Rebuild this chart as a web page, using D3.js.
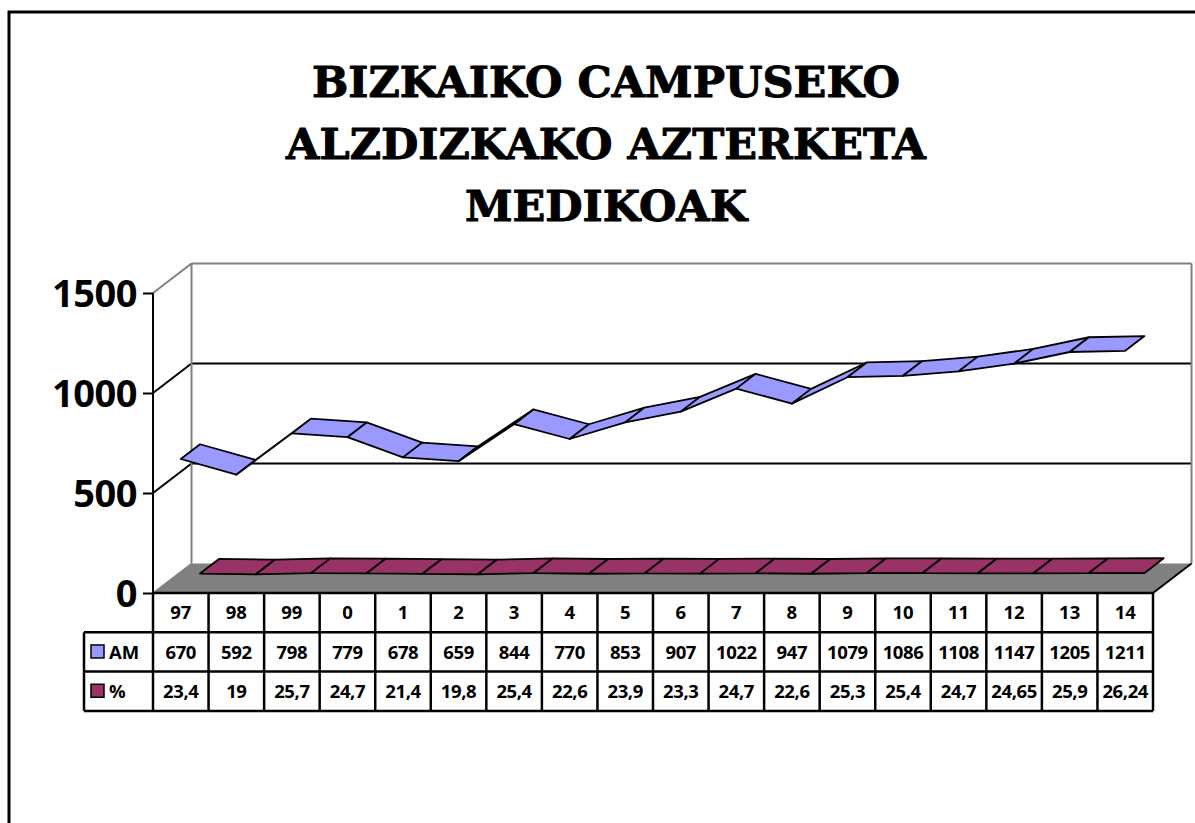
<!DOCTYPE html>
<html>
<head>
<meta charset="utf-8">
<script src="https://cdn.jsdelivr.net/npm/d3@7"></script>
<style>
  html, body { margin: 0; padding: 0; background: #fff; }
  svg { display: block; }
</style>
</head>
<body>
<svg id="chart" width="1195" height="823"></svg>
<script>
// ---- data ----
const titleLines = ["BIZKAIKO CAMPUSEKO", "ALZDIZKAKO AZTERKETA", "MEDIKOAK"];
const categories = ["97","98","99","0","1","2","3","4","5","6","7","8","9","10","11","12","13","14"];
const seriesNames = ["AM", "%"];
const amValues = [670,592,798,779,678,659,844,770,853,907,1022,947,1079,1086,1108,1147,1205,1211];
const pctValues = [23.4,19,25.7,24.7,21.4,19.8,25.4,22.6,23.9,23.3,24.7,22.6,25.3,25.4,24.7,24.65,25.9,26.24];
const yTicks = [0, 500, 1000, 1500];
const seriesColors = ["#9999FF", "#993366"];

// ---- layout ----
const svg = d3.select("#chart");
const pLeft = 153, pRight = 1153, pBottom = 593, pTop = 293;
const DX = 38.5, DY = -29.5; // full depth offset
const labelFont = "'Open Sans', 'Liberation Sans', sans-serif";

const x = d3.scaleBand().domain(categories).range([pLeft, pRight]).padding(0);
const y = d3.scaleLinear().domain([0, 1500]).range([pBottom, pTop]);
const cx = c => x(c) + x.bandwidth() / 2;

// outer border
svg.append("rect").attr("x", 9).attr("y", 12).attr("width", 1300).attr("height", 1000)
  .attr("fill", "#fff").attr("stroke", "#000").attr("stroke-width", 3);

// title
const title = svg.append("text").attr("text-anchor", "middle")
  .attr("font-family", "'DejaVu Serif', serif").attr("font-weight", "bold")
  .attr("font-size", 43).attr("fill", "#000")
  .attr("stroke", "#000").attr("stroke-width", 1).attr("stroke-linejoin", "round");
titleLines.forEach((t, i) => {
  title.append("tspan").attr("x", 606).attr("y", 97 + i * 62).text(t);
});

// back wall
const bx0 = pLeft + DX, bx1 = pRight + DX;
svg.append("rect").attr("x", bx0).attr("y", pTop + DY).attr("width", bx1 - bx0).attr("height", pBottom - pTop)
  .attr("fill", "#fff").attr("stroke", "none");

// gridlines on back wall & side wall
yTicks.forEach(v => {
  const yy = y(v);
  if (v === 0) return;
  const col = v === 1500 ? "#808080" : "#000";
  svg.append("line").attr("x1", bx0).attr("x2", bx1).attr("y1", yy + DY).attr("y2", yy + DY)
    .attr("stroke", col).attr("stroke-width", 2);
  svg.append("line").attr("x1", pLeft).attr("x2", bx0).attr("y1", yy).attr("y2", yy + DY)
    .attr("stroke", col).attr("stroke-width", 2);
});
// back wall verticals
svg.append("line").attr("x1", bx0).attr("x2", bx0).attr("y1", pTop + DY).attr("y2", pBottom + DY)
  .attr("stroke", "#808080").attr("stroke-width", 2);
svg.append("line").attr("x1", bx1).attr("x2", bx1).attr("y1", pTop + DY).attr("y2", pBottom + DY)
  .attr("stroke", "#808080").attr("stroke-width", 2);

// floor
svg.append("path")
  .attr("d", d3.line()([[pLeft, pBottom], [pRight, pBottom], [pRight + DX, pBottom + DY], [pLeft + DX, pBottom + DY]]) + "Z")
  .attr("fill", "#808080").attr("stroke", "none");
svg.append("line").attr("x1", pRight).attr("y1", pBottom).attr("x2", pRight + DX).attr("y2", pBottom + DY)
  .attr("stroke", "#000").attr("stroke-width", 2);
svg.append("line").attr("x1", pLeft).attr("y1", pBottom).attr("x2", pLeft + DX).attr("y2", pBottom + DY)
  .attr("stroke", "#808080").attr("stroke-width", 1.5);

// ribbons: series 0 at depth [0,0.5], series 1 at depth [0.5,1]
function ribbon(values, d0, d1, color) {
  const g = svg.append("g");
  const pts = values.map((v, i) => [cx(categories[i]), y(v)]);
  for (let i = 0; i < pts.length - 1; i++) {
    const a = pts[i], b = pts[i + 1];
    const quad = [
      [a[0] + DX * d0, a[1] + DY * d0],
      [b[0] + DX * d0, b[1] + DY * d0],
      [b[0] + DX * d1, b[1] + DY * d1],
      [a[0] + DX * d1, a[1] + DY * d1]
    ];
    g.append("path").attr("d", d3.line()(quad) + "Z")
      .attr("fill", color).attr("stroke", "#000").attr("stroke-width", 1.8)
      .attr("stroke-linejoin", "round");
  }
}
ribbon(pctValues, 0.5, 1.0, seriesColors[1]);
ribbon(amValues, 0.0, 0.5, seriesColors[0]);

// y axis
const yAxis = d3.axisLeft(y).tickValues(yTicks).tickSize(10).tickPadding(6).tickFormat(d3.format("d"));
const ag = svg.append("g").attr("transform", `translate(${pLeft},0)`).call(yAxis);
ag.select(".domain").attr("stroke", "#000").attr("stroke-width", 2).attr("d", `M0,${pTop}V${pBottom}`);
ag.selectAll(".tick line").attr("stroke", "#000").attr("stroke-width", 2);
ag.selectAll(".tick text").attr("font-family", labelFont).attr("font-weight", 700)
  .attr("font-size", 38).attr("fill", "#000").attr("dy", "0.36em").attr("letter-spacing", -0.5);

// data table
const rowH = 39.3;
const tableTop = pBottom;
const legendLeft = 84;
const tg = svg.append("g").attr("font-family", labelFont).attr("font-weight", 700)
  .attr("font-size", 18.5).attr("fill", "#000");

categories.forEach(c => {
  tg.append("text").attr("x", cx(c)).attr("y", tableTop + rowH / 2).attr("dy", "0.36em")
    .attr("text-anchor", "middle").text(c);
});
const rows = [amValues, pctValues];
rows.forEach((vals, r) => {
  const ry = tableTop + rowH * (r + 1);
  vals.forEach((v, i) => {
    tg.append("text").attr("x", cx(categories[i])).attr("y", ry + rowH / 2).attr("dy", "0.36em")
      .attr("text-anchor", "middle").attr("letter-spacing", -0.4).text(String(v).replace(".", ","));
  });
  tg.append("rect").attr("x", 91).attr("y", ry + rowH / 2 - 7).attr("width", 13).attr("height", 13)
    .attr("fill", seriesColors[r]).attr("stroke", "#000").attr("stroke-width", 1.5);
  tg.append("text").attr("x", 109).attr("y", ry + rowH / 2).attr("dy", "0.36em")
    .attr("text-anchor", "start").text(seriesNames[r]);
});

// table grid lines
const lg = svg.append("g").attr("stroke", "#000").attr("stroke-width", 2.5);
lg.append("line").attr("x1", pLeft).attr("x2", pRight).attr("y1", tableTop).attr("y2", tableTop);
for (let r = 1; r <= 3; r++) {
  lg.append("line").attr("x1", legendLeft).attr("x2", pRight)
    .attr("y1", tableTop + rowH * r).attr("y2", tableTop + rowH * r);
}
const colEdges = categories.map(c => x(c)).concat([pRight]);
colEdges.forEach(xx => {
  lg.append("line").attr("x1", xx).attr("x2", xx).attr("y1", tableTop).attr("y2", tableTop + rowH * 3);
});
lg.append("line").attr("x1", legendLeft).attr("x2", legendLeft)
  .attr("y1", tableTop + rowH).attr("y2", tableTop + rowH * 3);
</script>
</body>
</html>
